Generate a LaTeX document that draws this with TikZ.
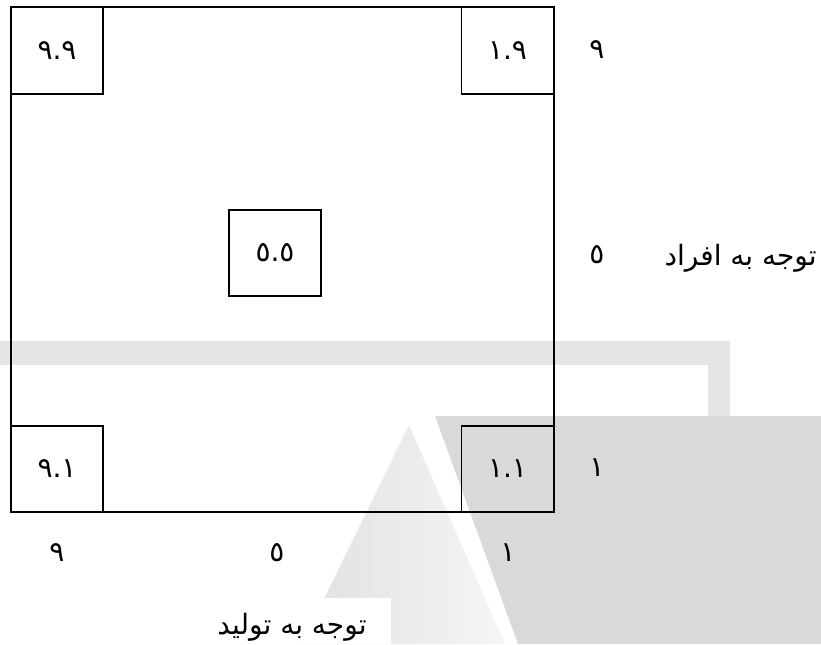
\documentclass[tikz,border=0pt]{standalone}
\usepackage{fontspec}
\setmainfont{DejaVu Sans}
\newfontfamily\arabicfont[Script=Arabic]{DejaVu Sans}
\TeXXeTstate=1
\definecolor{bandgray}{HTML}{E5E5E5}
\definecolor{markgray}{HTML}{D9D9D9}

\begin{document}
\begin{tikzpicture}[x=0.75pt,y=-0.75pt,
    cell/.style={draw,line width=1.4pt,minimum width=69pt,minimum height=65pt,inner sep=0pt,font=\arabicfont\fontsize{21}{25}\selectfont},
    lbl/.style={font=\arabicfont\fontsize{21}{25}\selectfont}]
  \useasboundingbox (0,0) rectangle (821,644);
  % background marks
  \fill[bandgray] (0,341) rectangle (730,365);
  \fill[bandgray] (708,341) rectangle (730,416);
  \shade[left color=markgray!80, middle color=markgray, right color=markgray!25] (409,425) -- (302,644) -- (505,644) -- cycle;
  \fill[markgray] (435,416) -- (821,416) -- (821,644) -- (518,644) -- cycle;
  \fill[white] (300,598) rectangle (391,644);
  % grid
  \draw[line width=1.4pt] (11,7) rectangle (554,512);
  \node[cell] (c99) at (57,50.5) {٩.٩};
  \node[cell] (c19) at (507.5,50.5) {١.٩};
  \node[cell] (c55) at (275,253) {٥.٥};
  \node[cell] (c91) at (57,469) {٩.١};
  \node[cell] (c11) at (507.5,469) {١.١};
  % scales
  \foreach \y/\d/\n in {50/٩/r9, 255/٥/r5, 468/١/r1}
    \node[lbl] (\n) at (597,\y) {\d};
  \foreach \x/\d/\n in {57/٩/s9, 277/٥/s5, 508/١/s1}
    \node[lbl] (\n) at (\x,553) {\d};
  \node[lbl,anchor=west] (people) at (660,258) {\beginR توجه به افراد\endR};
  \node[lbl] (production) at (292,627) {\beginR توجه به تولید\endR};
\end{tikzpicture}
\end{document}
